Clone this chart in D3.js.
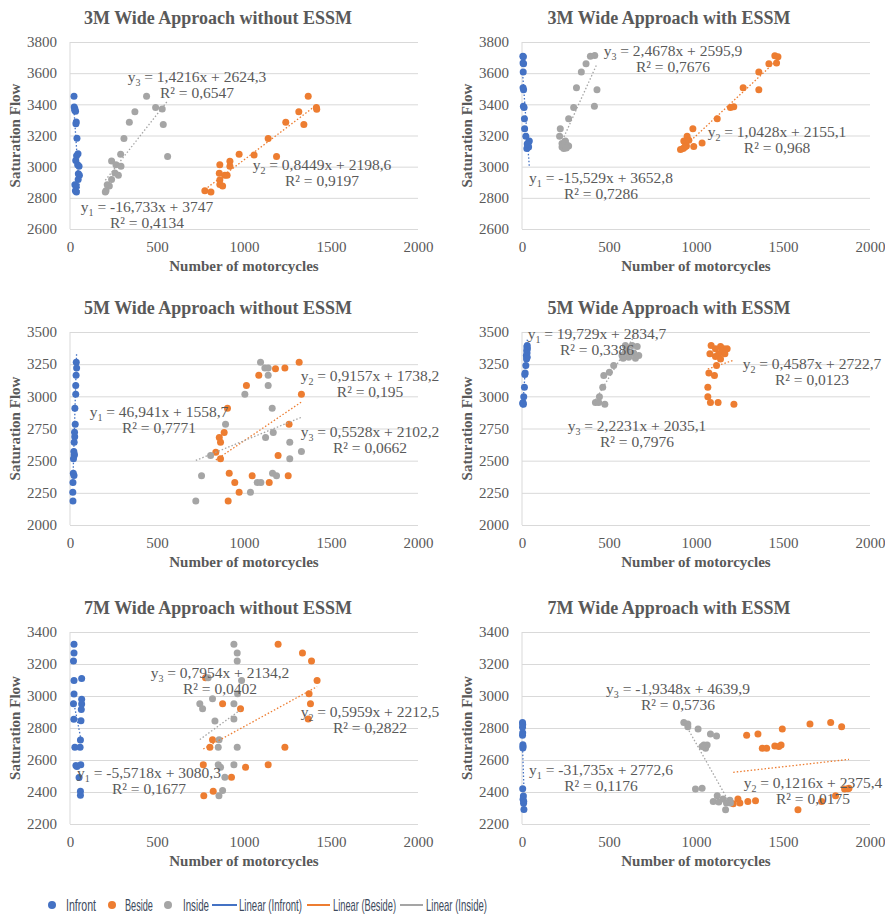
<!DOCTYPE html>
<html>
<head>
<meta charset="utf-8">
<script src="https://cdnjs.cloudflare.com/ajax/libs/d3/7.8.5/d3.min.js"></script>
<style>
body{margin:0;background:#fff;}
text{font-family:'Liberation Serif','Times New Roman',serif;fill:#595959;}
.legend text{font-family:'Liberation Sans',Arial,sans-serif;fill:#3d4a5c;}
</style>
</head>
<body>
<div id="chart"></div>
<script>
'use strict';

// ---- data ----
var titles = ['3M Wide Approach without ESSM', '3M Wide Approach with ESSM',
    '5M Wide Approach without ESSM', '5M Wide Approach with ESSM',
    '7M Wide Approach without ESSM', '7M Wide Approach with ESSM'];
var xTicks = [0, 500, 1000, 1500, 2000];
var yTicks3M = [2600, 2800, 3000, 3200, 3400, 3600, 3800];
var yTicks5M = [2000, 2250, 2500, 2750, 3000, 3250, 3500];
var yTicks7M = [2200, 2400, 2600, 2800, 3000, 3200, 3400];
var seriesNames = ['Infront', 'Beside', 'Inside'];

var infront3MWithout = [[23,3452],[24,3383],[28,3372],[27,3362],[32,3355],[36,3287],[34,3276],[40,3182],[46,3083],[38,3070],[33,3040],[44,3013],[52,3003],[48,2955],[54,2945],[47,2917],[28,2884],[36,2876],[31,2845],[37,2838]];
var beside3MWithout = [[1369,3452],[1416,3380],[1418,3368],[1315,3352],[1240,3285],[1344,3270],[1139,3180],[972,3080],[1058,3075],[1187,3065],[919,3035],[861,3012],[919,3002],[858,2957],[890,2945],[903,2945],[861,2915],[861,2885],[877,2876],[775,2845],[810,2838]];
var inside3MWithout = [[440,3452],[492,3380],[530,3370],[373,3352],[341,3285],[536,3270],[310,3180],[291,3080],[561,3065],[239,3037],[264,3012],[293,3002],[258,2960],[278,2945],[239,2917],[214,2884],[226,2876],[207,2845],[203,2838]];

var infront3MWith = [[5,3708],[8,3705],[6,3665],[9,3660],[7,3607],[6,3507],[9,3494],[8,3387],[12,3380],[14,3308],[15,3244],[22,3195],[42,3165],[35,3152],[33,3137],[38,3126],[28,3116],[30,3145]];
var beside3MWith = [[1453,3712],[1471,3706],[1419,3661],[1463,3665],[1361,3607],[1271,3507],[1361,3494],[1198,3379],[1217,3385],[1122,3308],[982,3244],[949,3195],[1035,3152],[987,3130],[930,3165],[940,3148],[926,3116],[911,3110],[959,3170],[945,3133],[935,3125]];
var inside3MWith = [[418,3714],[393,3708],[368,3661],[341,3607],[313,3507],[431,3494],[297,3379],[416,3387],[268,3308],[220,3244],[216,3195],[249,3165],[230,3148],[259,3137],[230,3126],[240,3116],[268,3133],[249,3158],[238,3140],[255,3120]];

var infront5MWithout = [[36,3264],[38,3220],[35,3163],[33,3085],[33,3017],[28,2908],[30,2784],[26,2721],[27,2685],[24,2644],[22,2571],[25,2550],[24,2540],[20,2514],[19,2402],[23,2384],[17,2330],[16,2254],[17,2187]];
var beside5MWithout = [[1317,3264],[1235,3220],[1181,3215],[1085,3163],[1014,3085],[1330,3017],[905,2908],[1259,2784],[886,2719],[858,2680],[865,2644],[838,2566],[1196,2540],[865,2514],[915,2402],[1047,2382],[1254,2382],[947,2330],[1145,2330],[972,2254],[909,2187]];
var inside5MWithout = [[1095,3264],[1120,3220],[1139,3220],[1139,3163],[1005,3017],[1139,3085],[1162,2908],[894,2784],[1168,2719],[1124,2680],[1263,2644],[808,2540],[1330,2571],[1263,2514],[756,2382],[1164,2402],[1187,2382],[1076,2330],[1097,2330],[1037,2254],[723,2187]];

var infront5MWith = [[30,3396],[28,3383],[31,3370],[27,3357],[29,3336],[25,3317],[30,3304],[26,3291],[22,3239],[18,3182],[16,3169],[14,3070],[10,2996],[6,2952],[8,2939],[4,2945]];
var beside5MWith = [[1087,3396],[1141,3388],[1112,3370],[1160,3370],[1179,3370],[1080,3330],[1131,3330],[1150,3351],[1166,3330],[1112,3310],[1141,3291],[1118,3239],[1074,3182],[1106,3161],[1068,3070],[1068,2996],[1083,2952],[1127,2952],[1218,2939]];
var inside5MWith = [[594,3396],[633,3396],[662,3388],[604,3357],[642,3336],[575,3317],[613,3304],[581,3296],[652,3296],[671,3317],[623,3330],[594,3343],[527,3239],[502,3187],[470,3161],[464,3070],[445,2996],[422,2952],[441,2952],[476,2939]];

var infront7MWithout = [[23,3323],[23,3269],[20,3218],[23,3097],[23,3013],[20,2952],[22,2855],[28,2680],[67,3110],[67,2980],[67,2950],[65,2915],[63,2845],[60,2725],[58,2680],[34,2565],[40,2560],[62,2570],[52,2490],[60,2405],[60,2380]];
var beside7MWithout = [[1196,3323],[1336,3269],[1388,3218],[1420,3097],[779,3114],[1374,3014],[1382,2951],[877,2951],[980,2920],[1369,2857],[819,2726],[804,2680],[1235,2680],[766,2571],[1139,2571],[1009,2555],[928,2492],[823,2404],[769,2377]];
var inside7MWithout = [[942,3323],[961,3269],[961,3218],[986,3097],[794,3114],[819,2983],[963,3014],[746,2951],[762,2920],[942,2951],[833,2843],[942,2857],[857,2726],[852,2680],[961,2680],[852,2571],[865,2555],[942,2571],[890,2492],[877,2409],[856,2377]];

var infront7MWith = [[3,2835],[4,2822],[3,2805],[4,2770],[3,2755],[5,2695],[6,2685],[5,2675],[4,2420],[8,2375],[6,2355],[10,2340],[9,2330],[11,2290]];
var beside7MWith = [[1774,2835],[1655,2825],[1837,2808],[1496,2794],[1291,2754],[1356,2763],[1381,2673],[1406,2673],[1453,2688],[1476,2684],[1489,2694],[1241,2356],[1252,2331],[1214,2327],[1298,2341],[1342,2345],[1586,2289],[1722,2341],[1802,2377],[1854,2418],[1873,2420],[1879,2424]];
var inside7MWith = [[930,2835],[953,2825],[953,2808],[1012,2794],[1083,2763],[1118,2750],[1045,2694],[1064,2694],[1055,2673],[1035,2684],[997,2418],[1035,2424],[1122,2377],[1099,2341],[1131,2337],[1156,2356],[1175,2331],[1170,2289],[1195,2348],[1198,2331]];

// linear trends [slope, intercept, R2] in order infront, beside, inside
var trend3MWithout = [[-16.733, 3747, 0.4134], [0.8449, 2198.6, 0.9197], [1.4216, 2624.3, 0.6547]];
var trend3MWith = [[-15.529, 3652.8, 0.7286], [1.0428, 2155.1, 0.968], [2.4678, 2595.9, 0.7676]];
var trend5MWithout = [[46.941, 1558.7, 0.7771], [0.9157, 1738.2, 0.195], [0.5528, 2102.2, 0.0662]];
var trend5MWith = [[19.729, 2834.7, 0.3386], [0.4587, 2722.7, 0.0123], [2.2231, 2035.1, 0.7976]];
var trend7MWithout = [[-5.5718, 3080.3, 0.1677], [0.5959, 2212.5, 0.2822], [0.7954, 2134.2, 0.0402]];
var trend7MWith = [[-31.735, 2772.6, 0.1176], [0.1216, 2375.4, 0.0175], [-1.9348, 4639.9, 0.5736]];

// ---- layout ----
var width = 885, height = 915;
var colors = ['#4472c4', '#ed7d31', '#a5a5a5'];
var plotW = 348,
    colLeft = [70, 522],
    rowTop = [42, 332, 632],
    rowBottom = [229, 525, 824],
    titleX = [218, 669];
// equation label centres (first line) for infront, beside, inside
var labelPos = [
    [[147, 207], [322, 165], [197, 77]],
    [[601, 178], [777, 132], [673, 51]],
    [[159, 412], [370, 376], [370, 432]],
    [[597, 334], [812, 364], [637, 426]],
    [[149, 773], [370, 712], [220, 673]],
    [[601, 770], [813, 783], [678, 689]]
];

var panels = [
    {yTicks: yTicks3M, series: [infront3MWithout, beside3MWithout, inside3MWithout], trend: trend3MWithout},
    {yTicks: yTicks3M, series: [infront3MWith, beside3MWith, inside3MWith], trend: trend3MWith},
    {yTicks: yTicks5M, series: [infront5MWithout, beside5MWithout, inside5MWithout], trend: trend5MWithout},
    {yTicks: yTicks5M, series: [infront5MWith, beside5MWith, inside5MWith], trend: trend5MWith},
    {yTicks: yTicks7M, series: [infront7MWithout, beside7MWithout, inside7MWithout], trend: trend7MWithout},
    {yTicks: yTicks7M, series: [infront7MWith, beside7MWith, inside7MWith], trend: trend7MWith}
];

var svg = d3.select('#chart').append('svg')
    .attr('width', width).attr('height', height)
    .attr('viewBox', '0 0 '+width+' '+height);
svg.append('rect').attr('width', width).attr('height', height).attr('fill', '#fff');

var serif = "'Liberation Serif','Times New Roman',serif";
function fmt(v){ return String(v).replace('.', ','); }

panels.forEach(function(p, i){
    var col = i % 2, row = Math.floor(i/2);
    var x0 = colLeft[col], top = rowTop[row], bottom = rowBottom[row];
    var x = d3.scaleLinear().domain([0, 2000]).range([x0, x0+plotW]);
    var y = d3.scaleLinear().domain([p.yTicks[0], p.yTicks[p.yTicks.length-1]]).range([bottom, top]);
    var g = svg.append('g').attr('class', 'panel');

    // grid + y labels
    var yAxis = g.append('g').attr('transform', 'translate('+x0+',0)')
        .call(d3.axisLeft(y).tickValues(p.yTicks).tickSize(-plotW).tickPadding(13).tickFormat(d3.format('d')));
    yAxis.select('.domain').remove();
    yAxis.selectAll('line').attr('stroke', '#d9d9d9');
    yAxis.selectAll('text').style('font-size', '15px').style('font-family', serif);

    var xAxis = g.append('g').attr('transform', 'translate(0,'+bottom+')')
        .call(d3.axisBottom(x).tickValues(xTicks).tickSize(0).tickPadding(12).tickFormat(d3.format('d')));
    xAxis.select('.domain').remove();
    xAxis.selectAll('text').style('font-size', '15px').style('font-family', serif);

    g.append('line').attr('x1', x0).attr('x2', x0).attr('y1', top).attr('y2', bottom)
        .attr('stroke', '#d9d9d9');

    // points
    p.series.forEach(function(pts, s){
        g.append('g').selectAll('circle').data(pts).enter().append('circle')
            .attr('cx', function(d){ return x(d[0]); })
            .attr('cy', function(d){ return y(d[1]); })
            .attr('r', 3.5)
            .attr('fill', colors[s]);
    });

    // trendlines
    p.series.forEach(function(pts, s){
        var t = p.trend[s],
            ext = d3.extent(pts, function(d){ return d[0]; });
        g.append('line')
            .attr('x1', x(ext[0])).attr('y1', y(t[0]*ext[0] + t[1]))
            .attr('x2', x(ext[1])).attr('y2', y(t[0]*ext[1] + t[1]))
            .attr('stroke', colors[s]).attr('stroke-width', 1.3)
            .attr('stroke-dasharray', '1.5,2');
    });

    // equation labels
    p.trend.forEach(function(t, s){
        var pos = labelPos[i][s];
        var l1 = g.append('text').attr('x', pos[0]).attr('y', pos[1]+5)
            .attr('text-anchor', 'middle').style('font-size', '15.5px');
        l1.append('tspan').text('y');
        l1.append('tspan').attr('dy', 4).style('font-size', '10px').text(s+1);
        l1.append('tspan').attr('dy', -4).text(' = '+fmt(t[0])+'x + '+fmt(t[1]));
        g.append('text').attr('x', pos[0]).attr('y', pos[1]+21)
            .attr('text-anchor', 'middle').style('font-size', '15.5px')
            .text('R² = '+fmt(t[2]));
    });

    // titles
    g.append('text').attr('x', titleX[col]).attr('y', top-18)
        .attr('text-anchor', 'middle').style('font-size', '18px').style('font-weight', 'bold')
        .text(titles[i]);
    g.append('text').attr('x', x0+plotW/2).attr('y', bottom+42)
        .attr('text-anchor', 'middle').style('font-size', '15px').style('font-weight', 'bold')
        .text('Number of motorcycles');
    g.append('text')
        .attr('transform', 'translate('+(x0-50)+','+((top+bottom)/2)+')rotate(-90)')
        .attr('text-anchor', 'middle').style('font-size', '15px').style('font-weight', 'bold')
        .text('Saturation Flow');
});

// legend: the reference uses a condensed face, so squeeze each text horizontally
var legend = svg.append('g').attr('class', 'legend');
var legendY = 905;
var dotX = [52, 112, 168], dotText = [[66, 30], [125, 28], [183, 26]];
var lineX = [[212, 237], [307, 330], [400, 423]], lineText = [[239, 63], [333, 63], [426, 61]];

function squeezed(x, w, label){
    var t = legend.append('text').attr('y', 0).style('font-size', '16px').text(label);
    var k = w / t.node().getComputedTextLength();
    t.attr('transform', 'translate('+x+','+(legendY+5.5)+')scale('+k+',1)');
}

seriesNames.forEach(function(name, s){
    legend.append('circle').attr('cx', dotX[s]).attr('cy', legendY).attr('r', 4).attr('fill', colors[s]);
    squeezed(dotText[s][0], dotText[s][1], name);
    legend.append('line').attr('x1', lineX[s][0]).attr('x2', lineX[s][1])
        .attr('y1', legendY).attr('y2', legendY)
        .attr('stroke', colors[s]).attr('stroke-width', 2);
    squeezed(lineText[s][0], lineText[s][1], 'Linear ('+name+')');
});
</script>
</body>
</html>
